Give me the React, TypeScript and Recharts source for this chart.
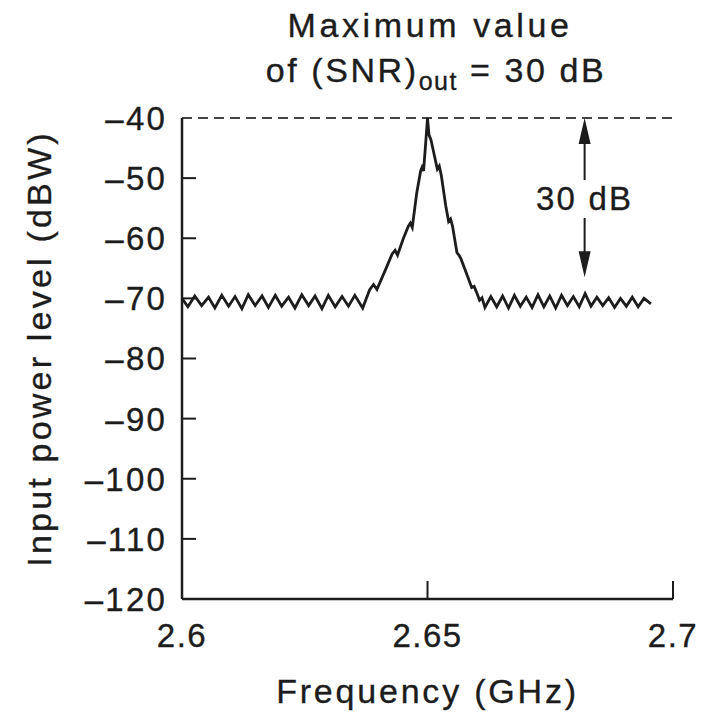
import { Line, LineChart, ReferenceLine, XAxis, YAxis } from "recharts";

const INK = "#1c1c1c";
const FONT = "'Liberation Sans', Arial, sans-serif";

// frequency in GHz, input power in dBW
const frequencies = [
  2.6, 2.6012, 2.6026, 2.604, 2.6054, 2.6067, 2.6081, 2.6095, 2.6108, 2.6122,
  2.6135, 2.6149, 2.6163, 2.6176, 2.619, 2.6203, 2.6217, 2.623, 2.6244, 2.6258,
  2.6271, 2.6285, 2.6298, 2.6312, 2.6326, 2.6339, 2.6352, 2.6368,
  2.6382, 2.639, 2.6397, 2.6413, 2.6428, 2.6434, 2.6439, 2.6451, 2.6461, 2.6465,
  2.6469, 2.6478, 2.6486, 2.6489, 2.6492, 2.6496, 2.65, 2.6503, 2.6507, 2.6512,
  2.652, 2.6524, 2.6528, 2.6537, 2.6543, 2.6547, 2.6551, 2.656, 2.6564, 2.6568,
  2.658, 2.659, 2.6595, 2.66, 2.6606, 2.6611, 2.6617,
  2.6629, 2.6641, 2.6653, 2.6665, 2.6677, 2.6689, 2.6701, 2.6713, 2.6725, 2.6737,
  2.6749, 2.6761, 2.6773, 2.6785, 2.6797, 2.6809, 2.6821, 2.6833, 2.6845, 2.6857,
  2.6869, 2.6881, 2.6893, 2.6905, 2.6917, 2.6929, 2.6941, 2.6955,
];

const powers = [
  -70.0, -71.4, -69.6, -71.2, -69.8, -71.6, -69.5, -71.3, -69.7, -71.7,
  -69.4, -71.2, -69.6, -71.5, -69.5, -71.3, -69.8, -71.6, -69.4, -71.2,
  -69.6, -71.7, -69.5, -71.4, -69.7, -71.3, -69.5, -71.6,
  -68.6, -67.7, -68.5, -65.5, -62.6, -62.0, -62.8, -60.0, -58.0, -57.5,
  -58.2, -52.5, -48.8, -48.2, -48.8, -44.5, -40.0, -42.8, -43.6, -45.5,
  -48.5, -48.0, -49.5, -54.5, -57.2, -56.8, -58.0, -62.4, -62.8, -63.4,
  -66.0, -68.2, -68.0, -69.0, -70.3, -69.9, -71.5,
  -69.7, -71.4, -69.6, -71.6, -69.5, -71.3, -69.8, -71.5, -69.4, -71.4,
  -69.6, -71.6, -69.5, -71.2, -69.7, -71.4, -69.2, -71.3, -69.8, -71.2,
  -69.9, -71.5, -70.0, -71.3, -69.8, -71.4, -70.0, -70.9,
];

const xTicks = [2.6, 2.65, 2.7];
const yTicks = [-40, -50, -60, -70, -80, -90, -100, -110, -120];

const maxLevel = -40;
const arrowFreq = 2.682;
const arrowBottom = -66.5;

const data = frequencies.map((f, i) => ({ f, p: powers[i] }));

const textStyle = {
  fill: INK,
  fontFamily: FONT,
  stroke: INK,
  strokeWidth: 0.35,
};

function XTick({ x, y, payload }: any) {
  const v = payload.value;
  return (
    <g>
      {v !== xTicks[0] && <line x1={x} x2={x} y1={y} y2={y - 18} stroke={INK} strokeWidth={2} />}
      <text x={x} y={y + 48} textAnchor="middle" fontSize={33} letterSpacing={1.5} style={textStyle}>
        {String(v)}
      </text>
    </g>
  );
}

function YTick({ x, y, payload }: any) {
  const v = payload.value;
  const inner = v !== yTicks[0] && v !== yTicks[yTicks.length - 1];
  return (
    <g>
      {inner && <line x1={x + 15} x2={x + 29} y1={y} y2={y} stroke={INK} strokeWidth={2} />}
      <text x={x} y={y} dy="0.36em" textAnchor="end" fontSize={33} letterSpacing={2.2} style={textStyle}>
        {"\u2013" + Math.abs(v)}
      </text>
    </g>
  );
}

function ArrowShape(props: any) {
  const { x1, y1, y2 } = props;
  const x = x1;
  const top = Math.min(y1, y2);
  const bot = Math.max(y1, y2);
  const mid = top + 80;
  return (
    <g>
      <line x1={x} x2={x} y1={top + 20} y2={mid - 18} stroke={INK} strokeWidth={2} />
      <line x1={x} x2={x} y1={mid + 20} y2={bot - 20} stroke={INK} strokeWidth={2} />
      <polygon points={`${x},${top} ${x - 6},${top + 26} ${x + 6},${top + 26}`} fill={INK} />
      <polygon points={`${x},${bot} ${x - 6},${bot - 26} ${x + 6},${bot - 26}`} fill={INK} />
      <text x={x} y={mid} dy="0.36em" textAnchor="middle" fontSize={33} letterSpacing={2.2} style={textStyle}>
        30 dB
      </text>
    </g>
  );
}

export default function App() {
  return (
    <div style={{ position: "absolute", left: 0, top: 0, width: 711, height: 717, background: "#fff" }}>
      <svg width={711} height={100} style={{ position: "absolute", left: 0, top: 0 }}>
        <text x={430} y={37} textAnchor="middle" fontSize={34} letterSpacing={3.6} style={textStyle}>
          Maximum value
        </text>
        <text x={436} y={82} textAnchor="middle" fontSize={34} letterSpacing={2.6} style={textStyle}>
          of (SNR)
          <tspan fontSize={25} dy={8} letterSpacing={1.5}>out</tspan>
          <tspan dy={-8}> = 30 dB</tspan>
        </text>
      </svg>
      <LineChart
        width={711}
        height={717}
        data={data}
        margin={{ top: 118, right: 38, bottom: 0, left: 0 }}
        style={{ position: "absolute", left: 0, top: 0 }}
      >
        <XAxis
          dataKey="f"
          type="number"
          domain={[2.6, 2.7]}
          ticks={xTicks}
          interval={0}
          height={118}
          tickSize={0}
          tickMargin={0}
          tickLine={false}
          axisLine={{ stroke: INK, strokeWidth: 2.5 }}
          tick={<XTick />}
          label={{
            content: ({ viewBox }: any) => (
              <text
                x={viewBox.x + viewBox.width / 2}
                y={viewBox.y + 104}
                textAnchor="middle"
                fontSize={34}
                letterSpacing={2.8}
                style={textStyle}
              >
                Frequency (GHz)
              </text>
            ),
          }}
        />
        <YAxis
          type="number"
          domain={[-120, -40]}
          ticks={yTicks}
          interval={0}
          width={182}
          tickSize={0}
          tickMargin={15}
          tickLine={false}
          axisLine={{ stroke: INK, strokeWidth: 2.5 }}
          tick={<YTick />}
          label={{
            content: ({ viewBox }: any) => {
              const cx = 39;
              const cy = viewBox.y + viewBox.height / 2 - 10;
              return (
                <text
                  x={cx}
                  y={cy}
                  dy="0.36em"
                  transform={`rotate(-90 ${cx} ${cy})`}
                  textAnchor="middle"
                  fontSize={34}
                  letterSpacing={3.2}
                  style={textStyle}
                >
                  Input power level (dBW)
                </text>
              );
            },
          }}
        />
        <ReferenceLine y={maxLevel} stroke="#444" strokeWidth={2} strokeDasharray="10 6" />
        <ReferenceLine
          segment={[
            { x: arrowFreq, y: maxLevel },
            { x: arrowFreq, y: arrowBottom },
          ]}
          shape={ArrowShape}
        />
        <Line
          type="linear"
          dataKey="p"
          stroke={INK}
          strokeWidth={2.8}
          dot={false}
          isAnimationActive={false}
        />
      </LineChart>
    </div>
  );
}
